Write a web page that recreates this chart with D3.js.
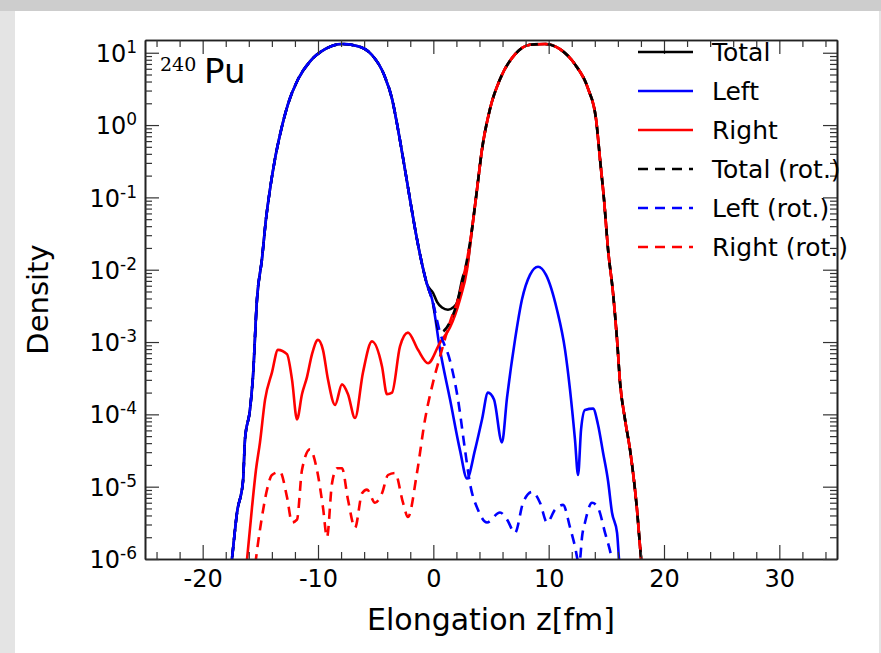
<!DOCTYPE html>
<html>
<head>
<meta charset="utf-8">
<script src="https://cdn.jsdelivr.net/npm/d3@7"></script>
<style>
  html, body { margin: 0; padding: 0; background: #e4e4e4; }
  svg { display: block; font-family: "DejaVu Sans", sans-serif; }
</style>
</head>
<body>
<svg id="chart" width="881" height="653"></svg>
<script>
// values (x in fm, density)
const leftX = [-17.6,-17.46,-17.02,-16.5,-16.33,-15.9,-15.64,-15.29,-14.86,-14.51,-14.16,-13.73,-13.29,-12.6,-11.73,-10.69,-9.39,-7.92,-6.53,-5.32,-4.28,-3.58,-3.06,-2.54,-2.02,-1.5,-0.98,-0.55,-0.11,0.58,1.45,2.31,2.92,3.61,4.22,4.74,5.26,5.95,6.39,7.08,7.69,8.38,9.08,9.77,10.72,11.42,11.85,12.28,12.55,12.81,13.15,13.85,14.28,14.71,15.15,15.49,15.93,16.1,16.3];
const leftY = [6.3e-7,1.0e-6,4.4e-6,1.2e-5,4.5e-5,1.15e-4,3.3e-4,3.9e-3,1.4e-2,5.0e-2,0.13,0.34,0.74,1.95,4.3,7.6,11.2,13.2,12.3,9.3,5.0,2.3,0.87,0.29,9.3e-2,3.1e-2,1.2e-2,6.3e-3,3.9e-3,7.8e-4,1.6e-4,3.2e-5,1.3e-5,3.2e-5,8.5e-5,2.0e-4,1.6e-4,4.1e-5,1.7e-4,1.07e-3,3.9e-3,8.5e-3,1.1e-2,8.5e-3,2.8e-3,7.8e-4,2.2e-4,4.5e-5,1.45e-5,6.2e-5,1.15e-4,1.2e-4,7.2e-5,3.0e-5,1.2e-5,4.4e-6,2.3e-6,1.0e-6,5e-7];

const rightX = [-16.24,-15.72,-15.38,-15.03,-14.59,-13.99,-13.47,-12.69,-12.25,-11.82,-11.39,-10.95,-10.52,-10.0,-9.57,-9.13,-8.52,-7.92,-7.4,-6.79,-6.1,-5.32,-4.45,-4.02,-3.58,-2.89,-2.2,-1.33,-0.46,0.58,1.45,2.31,2.92,3.35,3.79,4.22,4.91,5.78,7.08,8.38,9.68,10.98,12.28,13.41,14.11,14.45,14.8,15.15,15.58,15.93,16.19,16.62,17.06,17.4,17.66,17.92,18.1];
const rightY = [7.1e-7,5.2e-6,1.7e-5,4.1e-5,1.6e-4,3.8e-4,7.8e-4,6.8e-4,3.0e-4,8.5e-5,1.9e-4,3.3e-4,6.8e-4,1.07e-3,7.8e-4,3.0e-4,1.35e-4,2.6e-4,1.9e-4,8.9e-5,3.8e-4,1.02e-3,4.6e-4,1.9e-4,2.0e-4,8.7e-4,1.35e-3,7.8e-4,5.1e-4,9.8e-4,1.6e-3,3.9e-3,1.0e-2,3.6e-2,0.13,0.46,1.66,4.3,9.5,12.9,13.2,11.2,6.9,3.2,1.2,0.34,9.3e-2,1.9e-2,4.8e-3,1.07e-3,2.75e-4,8.5e-5,3.2e-5,1.2e-5,4.8e-6,1.5e-6,7.1e-7];

const totalX = [-17.6,-17.46,-17.02,-16.5,-16.33,-15.9,-15.64,-15.29,-14.86,-14.51,-14.16,-13.73,-13.29,-12.6,-11.73,-10.69,-9.39,-7.92,-6.53,-5.32,-4.28,-3.58,-3.06,-2.54,-2.02,-1.5,-0.98,-0.55,-0.03,0.32,0.75,1.27,1.71,2.05,2.57,2.92,3.35,3.79,4.22,4.91,5.78,7.08,8.38,9.68,10.98,12.28,13.41,14.11,14.45,14.8,15.15,15.58,15.93,16.19,16.62,17.06,17.4,17.66,17.92,18.1];
const totalY = [6.3e-7,1.0e-6,4.4e-6,1.2e-5,4.5e-5,1.15e-4,3.3e-4,3.9e-3,1.4e-2,5.0e-2,0.13,0.34,0.74,1.95,4.3,7.6,11.2,13.2,12.3,9.3,5.0,2.3,0.87,0.29,9.3e-2,3.1e-2,1.2e-2,6.3e-3,4.8e-3,3.6e-3,3.0e-3,2.8e-3,3.0e-3,3.5e-3,8.1e-3,1.1e-2,3.6e-2,0.13,0.46,1.66,4.3,9.5,12.9,13.2,11.2,6.9,3.2,1.2,0.34,9.3e-2,1.9e-2,4.8e-3,1.07e-3,2.75e-4,8.5e-5,3.2e-5,1.2e-5,4.8e-6,1.5e-6,7.1e-7];

const totalRotX = [-17.6,-17.46,-17.02,-16.5,-16.33,-15.9,-15.64,-15.29,-14.86,-14.51,-14.16,-13.73,-13.29,-12.6,-11.73,-10.69,-9.39,-7.92,-6.53,-5.32,-4.28,-3.58,-3.06,-2.54,-2.02,-1.5,-0.98,-0.55,-0.11,0.58,1.45,2.14,2.66,3.35,3.79,4.22,4.91,5.78,7.08,8.38,9.68,10.98,12.28,13.41,14.11,14.45,14.8,15.15,15.58,15.93,16.19,16.62,17.06,17.4,17.66,17.92,18.1];
const totalRotY = [6.3e-7,1.0e-6,4.4e-6,1.2e-5,4.5e-5,1.15e-4,3.3e-4,3.9e-3,1.4e-2,5.0e-2,0.13,0.34,0.74,1.95,4.3,7.6,11.2,13.2,12.3,9.3,5.0,2.3,0.87,0.29,9.3e-2,3.1e-2,1.2e-2,6.3e-3,3.9e-3,1.35e-3,1.9e-3,3.9e-3,8.5e-3,3.6e-2,0.13,0.46,1.66,4.3,9.5,12.9,13.2,11.2,6.9,3.2,1.2,0.34,9.3e-2,1.9e-2,4.8e-3,1.07e-3,2.75e-4,8.5e-5,3.2e-5,1.2e-5,4.8e-6,1.5e-6,7.1e-7];

const leftRotX = [-17.6,-17.46,-17.02,-16.5,-16.33,-15.9,-15.64,-15.29,-14.86,-14.51,-14.16,-13.73,-13.29,-12.6,-11.73,-10.69,-9.39,-7.92,-6.53,-5.32,-4.28,-3.58,-3.06,-2.54,-2.02,-1.5,-0.98,-0.55,-0.11,0.58,1.45,2.14,2.75,3.18,3.87,4.65,5.78,6.39,7.08,7.78,8.56,9.25,9.86,10.55,11.25,11.85,12.28,12.6,12.72,12.89,13.15,13.76,14.28,14.89,15.32,15.58,15.8];
const leftRotY = [6.3e-7,1.0e-6,4.4e-6,1.2e-5,4.5e-5,1.15e-4,3.3e-4,3.9e-3,1.4e-2,5.0e-2,0.13,0.34,0.74,1.95,4.3,7.6,11.2,13.2,12.3,9.3,5.0,2.3,0.87,0.29,9.3e-2,3.1e-2,1.2e-2,6.3e-3,3.9e-3,1.35e-3,5.5e-4,1.6e-4,3.2e-5,1.1e-5,4.8e-6,3.2e-6,4.4e-6,3.5e-6,2.3e-6,6.0e-6,8.5e-6,6.0e-6,3.2e-6,4.8e-6,5.6e-6,2.75e-6,1.5e-6,9e-7,1.0e-6,2.0e-6,3.2e-6,6.0e-6,5.1e-6,2.3e-6,1.3e-6,8.3e-7,5e-7];

const rightRotX = [-15.6,-15.29,-14.86,-14.42,-13.99,-13.29,-12.69,-12.25,-11.82,-11.39,-10.69,-10.09,-9.57,-9.22,-8.79,-8.35,-7.92,-7.4,-6.79,-6.18,-5.75,-5.06,-4.45,-3.93,-3.32,-2.63,-2.2,-1.42,-0.72,-0.03,0.58,1.45,2.14,2.66,3.35,3.79,4.22,4.91,5.78,7.08,8.38,9.68,10.98,12.28,13.41,14.11,14.45,14.8,15.15,15.58,15.93,16.19,16.62,17.06,17.4,17.66,17.92,18.1];
const rightRotY = [5e-7,1.3e-6,3.8e-6,9.1e-6,1.45e-5,1.6e-5,7.2e-6,3.2e-6,3.5e-6,1.7e-5,3.3e-5,1.7e-5,5.2e-6,2.0e-6,1.1e-5,1.8e-5,1.8e-5,6.6e-6,2.7e-6,8.1e-6,9.1e-6,6.0e-6,8.1e-6,1.45e-5,1.55e-5,6.0e-6,3.8e-6,1.55e-5,8.5e-5,2.75e-4,6.3e-4,1.9e-3,3.9e-3,8.5e-3,3.6e-2,0.13,0.46,1.66,4.3,9.5,12.9,13.2,11.2,6.9,3.2,1.2,0.34,9.3e-2,1.9e-2,4.8e-3,1.07e-3,2.75e-4,8.5e-5,3.2e-5,1.2e-5,4.8e-6,1.5e-6,7.1e-7];

const seriesNames = ["Total", "Left", "Right", "Total (rot.)", "Left (rot.)", "Right (rot.)"];
const seriesColors = ["#000000", "#0000ff", "#ff0000", "#000000", "#0000ff", "#ff0000"];
const seriesDashed = [false, false, false, true, true, true];
const seriesX = [totalX, leftX, rightX, totalRotX, leftRotX, rightRotX];
const seriesY = [totalY, leftY, rightY, totalRotY, leftRotY, rightRotY];

const xTicks = [-20, -10, 0, 10, 20, 30];
const yTicks = [1e-6, 1e-5, 1e-4, 1e-3, 1e-2, 1e-1, 1, 10];

const svg = d3.select("#chart");

// page frame
svg.append("rect").attr("x", 0).attr("y", 0).attr("width", 881).attr("height", 653).attr("fill", "#e4e4e4");
svg.append("rect").attr("x", 0).attr("y", 0).attr("width", 881).attr("height", 11).attr("fill", "#cdcdcd");
svg.append("rect").attr("x", 15).attr("y", 11).attr("width", 864).attr("height", 642).attr("fill", "#ffffff");

const margin = {left: 145, top: 40, right: 44, bottom: 94};
const w = 881 - margin.left - margin.right;
const h = 653 - margin.top - margin.bottom;

const x = d3.scaleLinear().domain([-25, 35]).range([0, w]);
const y = d3.scaleLog().domain([1e-6, 15]).range([h, 0]);

const g = svg.append("g").attr("transform", "translate(" + margin.left + "," + margin.top + ")");

g.append("clipPath").attr("id", "clip")
  .append("rect").attr("width", w).attr("height", h);

const line = d3.line()
  .x(d => x(d[0]))
  .y(d => y(d[1]))
  .curve(d3.curveMonotoneX);

const dash = [10, 7];
const plot = g.append("g").attr("clip-path", "url(#clip)");
const paths = [];
seriesNames.forEach(function(name, i) {
  const pts = seriesX[i].map((v, j) => [v, seriesY[i][j]]);
  const p = plot.append("path")
    .datum(pts)
    .attr("fill", "none")
    .attr("stroke", seriesColors[i])
    .attr("stroke-width", 2.6)
    .attr("stroke-linejoin", "round")
    .attr("stroke-dasharray", seriesDashed[i] ? dash.join(",") : null)
    .attr("d", line);
  paths.push(p.node());
});

// shift the red dashes half a period against the black ones on the right peak,
// so both dashed curves show through where they lie on top of each other
function lengthAtX(node, px) {
  let lo = 0, hi = node.getTotalLength();
  for (let k = 0; k < 40; k++) {
    const mid = (lo + hi) / 2;
    if (node.getPointAtLength(mid).x < px) lo = mid; else hi = mid;
  }
  return lo;
}
const period = dash[0] + dash[1];
const shift = lengthAtX(paths[3], x(4)) - lengthAtX(paths[5], x(4)) + period / 2;
d3.select(paths[5]).attr("stroke-dashoffset", ((shift % period) + period) % period);

// minor ticks
const xMinor = d3.range(-24, 35, 2).filter(v => v % 10 !== 0);
const yMinor = [];
for (let k = -6; k <= 1; k++) {
  for (let m = 2; m <= 9; m++) {
    const v = m * Math.pow(10, k);
    if (v < 15) yMinor.push(v);
  }
}

function styleAxis(sel) {
  sel.selectAll("path.domain").attr("stroke", "#222").attr("stroke-width", 1.6);
  sel.selectAll(".tick line").attr("stroke", "#333").attr("stroke-width", 1.2);
}

const gx = g.append("g").attr("transform", "translate(0," + h + ")")
  .call(d3.axisBottom(x).tickValues(xTicks).tickSize(-14).tickSizeOuter(0).tickPadding(11)
    .tickFormat(d => String(d)));
gx.selectAll(".tick text").attr("font-size", "24px").attr("fill", "#000")
  .attr("font-family", "DejaVu Sans");
g.append("g").attr("transform", "translate(0," + h + ")")
  .call(d3.axisBottom(x).tickValues(xMinor).tickSize(-7).tickSizeOuter(0).tickFormat(""))
  .call(styleAxis);
styleAxis(gx);

const gt = g.append("g")
  .call(d3.axisTop(x).tickValues(xTicks).tickSize(-14).tickSizeOuter(0).tickFormat(""));
g.append("g").call(d3.axisTop(x).tickValues(xMinor).tickSize(-7).tickSizeOuter(0).tickFormat("")).call(styleAxis);
styleAxis(gt);

const gy = g.append("g")
  .call(d3.axisLeft(y).tickValues(yTicks).tickSize(-14).tickSizeOuter(0).tickPadding(8).tickFormat(""));
g.append("g").call(d3.axisLeft(y).tickValues(yMinor).tickSize(-7).tickSizeOuter(0).tickFormat("")).call(styleAxis);
styleAxis(gy);
gy.selectAll(".tick text").each(function(d) {
  const t = d3.select(this);
  t.text(null).attr("dy", "0.36em").attr("fill", "#000").attr("font-size", "24px")
    .attr("font-family", "DejaVu Sans");
  t.append("tspan").text("10");
  t.append("tspan").attr("dy", "-9").attr("font-size", "17px").text(String(Math.round(Math.log10(d))));
});

const gr = g.append("g").attr("transform", "translate(" + w + ",0)")
  .call(d3.axisRight(y).tickValues(yTicks).tickSize(-14).tickSizeOuter(0).tickFormat(""));
g.append("g").attr("transform", "translate(" + w + ",0)")
  .call(d3.axisRight(y).tickValues(yMinor).tickSize(-7).tickSizeOuter(0).tickFormat("")).call(styleAxis);
styleAxis(gr);

// axis titles
svg.append("text")
  .attr("x", margin.left + w / 2).attr("y", 630)
  .attr("text-anchor", "middle").attr("font-size", "30px").attr("fill", "#000")
  .text("Elongation z[fm]");
svg.append("text")
  .attr("transform", "translate(48," + (margin.top + h / 2) + ") rotate(-90)")
  .attr("text-anchor", "middle").attr("font-size", "29px").attr("fill", "#000")
  .text("Density");

// nucleus label
svg.append("text").attr("x", 160).attr("y", 71)
  .attr("font-family", "DejaVu Serif").attr("font-size", "19px").attr("fill", "#000").text("240");
svg.append("text").attr("x", 204).attr("y", 83)
  .attr("font-size", "34px").attr("fill", "#000").text("Pu");

// legend
const legend = svg.append("g").attr("transform", "translate(638,52)");
seriesNames.forEach(function(name, i) {
  const row = legend.append("g").attr("transform", "translate(0," + (i * 39) + ")");
  row.append("line").attr("x1", 0).attr("x2", 55).attr("y1", 0).attr("y2", 0)
    .attr("stroke", seriesColors[i]).attr("stroke-width", 2.6)
    .attr("stroke-dasharray", seriesDashed[i] ? dash.join(",") : null);
  row.append("text").attr("x", 74).attr("y", 9)
    .attr("font-size", "25px").attr("fill", "#000").text(name);
});
</script>
</body>
</html>
